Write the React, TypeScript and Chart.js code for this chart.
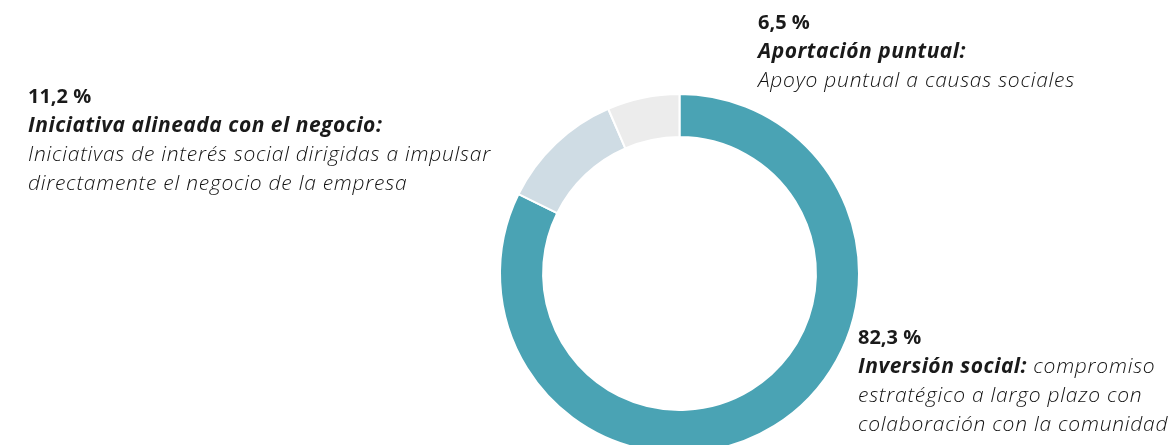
import React, { useEffect, useRef } from "react";
import { Chart, registerables } from "chart.js";

Chart.register(...registerables);

const categories: string[] = ["Inversión social", "Iniciativa alineada con el negocio", "Aportación puntual"];
const values: number[] = [82.3, 11.2, 6.5];
const colors: string[] = ["#4AA3B4", "#CFDCE4", "#ECECEC"];
const valueLabels: string[] = ["82,3 %", "11,2 %", "6,5 %"];

const FONT = "'Open Sans', 'Noto Sans', sans-serif";

export default function App() {
  const ref = useRef<HTMLCanvasElement | null>(null);

  useEffect(() => {
    document.body.style.margin = "0";
    const ctx = ref.current!;
    const chart = new Chart(ctx, {
      type: "doughnut",
      data: {
        labels: categories,
        datasets: [
          {
            data: values,
            backgroundColor: colors,
            borderColor: "#ffffff",
            borderWidth: 2,
          },
        ],
      },
      options: {
        animation: false,
        responsive: false,
        maintainAspectRatio: false,
        cutout: "76%",
        rotation: 0,
        layout: { padding: { left: 499, right: 309, top: 93, bottom: 6 } },
        plugins: { legend: { display: false }, tooltip: { enabled: false } },
      },
    });
    return () => chart.destroy();
  }, []);

  const base: React.CSSProperties = {
    position: "absolute",
    fontFamily: FONT,
    fontSize: 20,
    lineHeight: "29px",
    color: "#1a1a1a",
    whiteSpace: "nowrap",
  };
  const bold: React.CSSProperties = { fontWeight: 700 };
  const boldIt: React.CSSProperties = { fontWeight: 700, fontStyle: "italic", fontSize: 21, letterSpacing: "0.5px" };
  const light: React.CSSProperties = { fontWeight: 300, fontStyle: "italic", color: "#111111", fontSize: 21, letterSpacing: "0.75px" };

  return (
    <div style={{ position: "absolute", left: 0, top: 0, width: 1169, height: 445, overflow: "hidden", background: "#fff" }}>
      <canvas ref={ref} width={1169} height={460} style={{ position: "absolute", left: 0, top: 0, width: 1169, height: 460 }} />
      <div style={{ ...base, left: 758, top: 7 }}>
        <div style={bold}>{valueLabels[2]}</div>
        <div style={boldIt}>{categories[2]}:</div>
        <div style={light}>Apoyo puntual a causas sociales</div>
      </div>
      <div style={{ ...base, left: 28, top: 81 }}>
        <div style={bold}>{valueLabels[1]}</div>
        <div style={boldIt}>{categories[1]}:</div>
        <div style={light}>Iniciativas de interés social dirigidas a impulsar</div>
        <div style={light}>directamente el negocio de la empresa</div>
      </div>
      <div style={{ ...base, left: 858, top: 322 }}>
        <div style={bold}>{valueLabels[0]}</div>
        <div>
          <span style={boldIt}>{categories[0]}:</span>
          <span style={light}> compromiso</span>
        </div>
        <div style={light}>estratégico a largo plazo con</div>
        <div style={light}>colaboración con la comunidad</div>
      </div>
    </div>
  );
}
